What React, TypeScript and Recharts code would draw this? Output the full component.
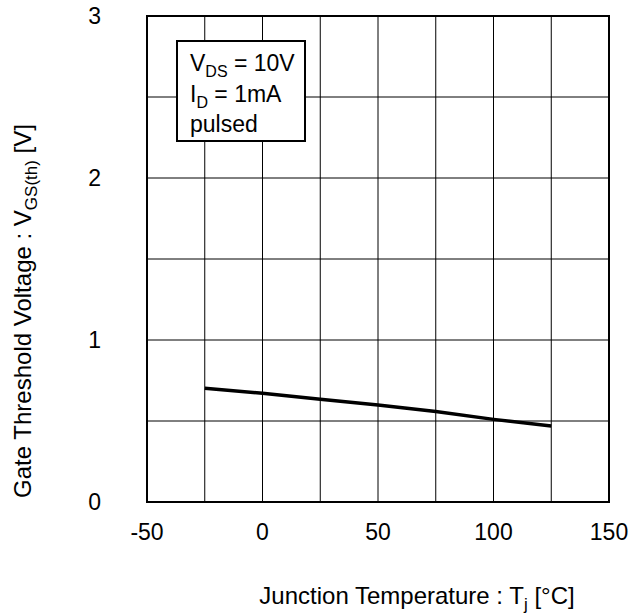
import React from 'react';
import { LineChart, Line, XAxis, YAxis, CartesianGrid, ReferenceArea, Label } from 'recharts';

// Junction temperature (°C) and gate threshold voltage (V)
const temperatures = [-25, 0, 25, 50, 75, 100, 125];
const thresholdVoltages = [0.702, 0.671, 0.634, 0.599, 0.558, 0.51, 0.469];

const xTicks = [-50, -25, 0, 25, 50, 75, 100, 125, 150];
const yTicks = [0, 0.5, 1, 1.5, 2, 2.5, 3];

const conditionLines = [
  { main: 'V', sub: 'DS', rest: ' = 10V' },
  { main: 'I', sub: 'D', rest: ' = 1mA' },
  { main: 'pulsed', sub: '', rest: '' },
];

const data = temperatures.map((t, i) => ({ t, v: thresholdVoltages[i] }));

const FONT = '"Liberation Sans", Arial, Helvetica, sans-serif';

const renderConditions = (props: any) => {
  const vb = props.viewBox || {};
  const x0 = vb.x + 30;
  const y0 = vb.y + 25;
  return (
    <g>
      <rect x={x0} y={y0} width={128} height={100} fill="#fff" stroke="#000" strokeWidth={2} />
      {conditionLines.map((ln, i) => (
        <text key={i} x={x0 + 13} y={y0 + 30 + i * 30.5} fontFamily={FONT} fontSize={23} fill="#000">
          {ln.main}
          {ln.sub ? (
            <tspan fontSize={16} dy={6}>{ln.sub}</tspan>
          ) : null}
          {ln.rest ? <tspan dy={ln.sub ? -6 : 0}>{ln.rest}</tspan> : null}
        </text>
      ))}
    </g>
  );
};

const renderXLabel = (props: any) => {
  const vb = props.viewBox || {};
  const cx = vb.x + vb.width / 2 + 39;
  const y = vb.y + 102;
  return (
    <text x={cx} y={y} textAnchor="middle" fontFamily={FONT} fontSize={24} fill="#000">
      Junction Temperature : T
      <tspan fontSize={17} dy={6}>j</tspan>
      <tspan dy={-6}> [°C]</tspan>
    </text>
  );
};

const renderYLabel = (props: any) => {
  const vb = props.viewBox || {};
  const x = 31;
  const cy = vb.y + vb.height / 2 + 52;
  return (
    <text
      x={x}
      y={cy}
      transform={`rotate(-90, ${x}, ${cy})`}
      textAnchor="middle"
      fontFamily={FONT}
      fontSize={24}
      fill="#000"
    >
      Gate Threshold Voltage : V
      <tspan fontSize={17} dy={6}>GS(th)</tspan>
      <tspan dy={-6}> [V]</tspan>
    </text>
  );
};

export default function App() {
  return (
    <div style={{ position: 'absolute', left: 0, top: 0, background: '#fff' }}>
      <LineChart
        width={632}
        height={616}
        data={data}
        margin={{ top: 16, right: 23, bottom: 84, left: 87 }}
        style={{ fontFamily: FONT }}
      >
        <CartesianGrid stroke="#000" strokeWidth={1} />
        <XAxis
          dataKey="t"
          type="number"
          domain={[-50, 150]}
          ticks={xTicks}
          tickFormatter={(v: number) => (v % 50 === 0 ? String(v) : '')}
          tickLine={false}
          axisLine={false}
          tickSize={0}
          tickMargin={22}
          height={30}
          tick={{ fill: '#000', fontSize: 23, fontFamily: FONT }}
          allowDataOverflow
        >
          <Label content={renderXLabel} />
        </XAxis>
        <YAxis
          type="number"
          domain={[0, 3]}
          ticks={yTicks}
          tickFormatter={(v: number) => (Number.isInteger(v) ? String(v) : '')}
          tickLine={false}
          axisLine={false}
          tickSize={0}
          tickMargin={46}
          width={60}
          tick={{ fill: '#000', fontSize: 23, fontFamily: FONT }}
          allowDataOverflow
        >
          <Label content={renderYLabel} />
        </YAxis>
        <ReferenceArea
          x1={-50}
          x2={150}
          y1={0}
          y2={3}
          fill="none"
          fillOpacity={0}
          stroke="#000"
          strokeWidth={2}
          ifOverflow="visible"
        >
          <Label content={renderConditions} />
        </ReferenceArea>
        <Line
          type="linear"
          dataKey="v"
          stroke="#000"
          strokeWidth={3.5}
          dot={false}
          isAnimationActive={false}
        />
      </LineChart>
    </div>
  );
}
